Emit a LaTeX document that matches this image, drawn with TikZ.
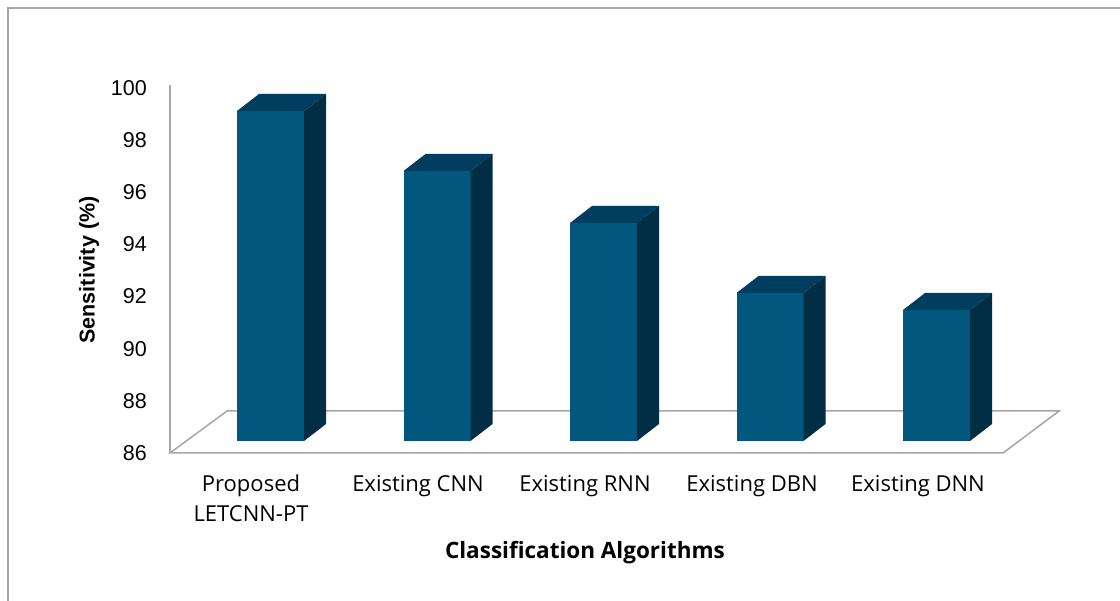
\documentclass[tikz,border=0pt]{standalone}
\usepackage{fontspec}
\setmainfont{Liberation Sans}
\newfontfamily\catfont{Open Sans}
\usetikzlibrary{positioning}

\definecolor{barfront}{RGB}{1,87,125}
\definecolor{bartop}{RGB}{1,61,94}
\definecolor{barside}{RGB}{1,46,69}
\definecolor{gridgray}{RGB}{166,166,166}

\tikzset{
  floorline/.style={draw=gridgray, line width=1.5pt},
  ticklabel/.style={anchor=east, inner sep=0pt, font=\fontsize{21.5}{24}\selectfont},
  catlabel/.style={inner sep=0pt, align=center, font=\catfont\fontsize{22}{30}\selectfont},
  axistitle/.style={inner sep=0pt, font=\bfseries\fontsize{21.5}{24}\selectfont}
}

\begin{document}
\begin{tikzpicture}[x=1pt, y=-1pt]
\useasboundingbox (0,0) rectangle (1120,601);
% outer frame (only top and left edges show)
\draw[draw=gridgray, line width=1.2pt] (8,601) -- (8,8) -- (1120,8);

% floor and value axis
\coordinate (fl) at (170,453);
\coordinate (bl) at (227,411);
\coordinate (br) at (1059,411);
\coordinate (fr) at (1003,453);
\coordinate (axtop) at (170,85);
\draw[floorline] (fl) -- (bl) -- (br) -- (fr) -- cycle;
\draw[floorline] (axtop) -- (fl);

% tick labels
\foreach \v in {86,88,...,100}
  \node[ticklabel] (tick\v) at (147,{453-(\v-86)*26.07}) {\v};

% bars
\foreach \xl/\yt in {237/111, 403.5/171, 570/223, 736.5/293, 903/310}{
  \fill[barfront] (\xl,441) rectangle (\xl+67,\yt);
  \fill[bartop] (\xl,\yt) -- (\xl+22,\yt-17) -- (\xl+89,\yt-17) -- (\xl+67,\yt) -- cycle;
  \fill[barside] (\xl+67,\yt) -- (\xl+89,\yt-17) -- (\xl+89,424) -- (\xl+67,441) -- cycle;
}

% category labels
\node[catlabel, anchor=north] (cat1) at (251,475) {Proposed\\LETCNN-PT};
\node[catlabel, anchor=north] (cat2) at (418,475) {Existing CNN};
\node[catlabel, anchor=north] (cat3) at (585,475) {Existing RNN};
\node[catlabel, anchor=north] (cat4) at (752,475) {Existing DBN};
\node[catlabel, anchor=north] (cat5) at (918,475) {Existing DNN};

% axis titles
\node[axistitle, rotate=90] (ytitle) at (89,270) {Sensitivity (\%)};
\node[axistitle, font=\catfont\bfseries\fontsize{22.5}{24}\selectfont] (xtitle) at (585,553) {Classification Algorithms};
\end{tikzpicture}
\end{document}
